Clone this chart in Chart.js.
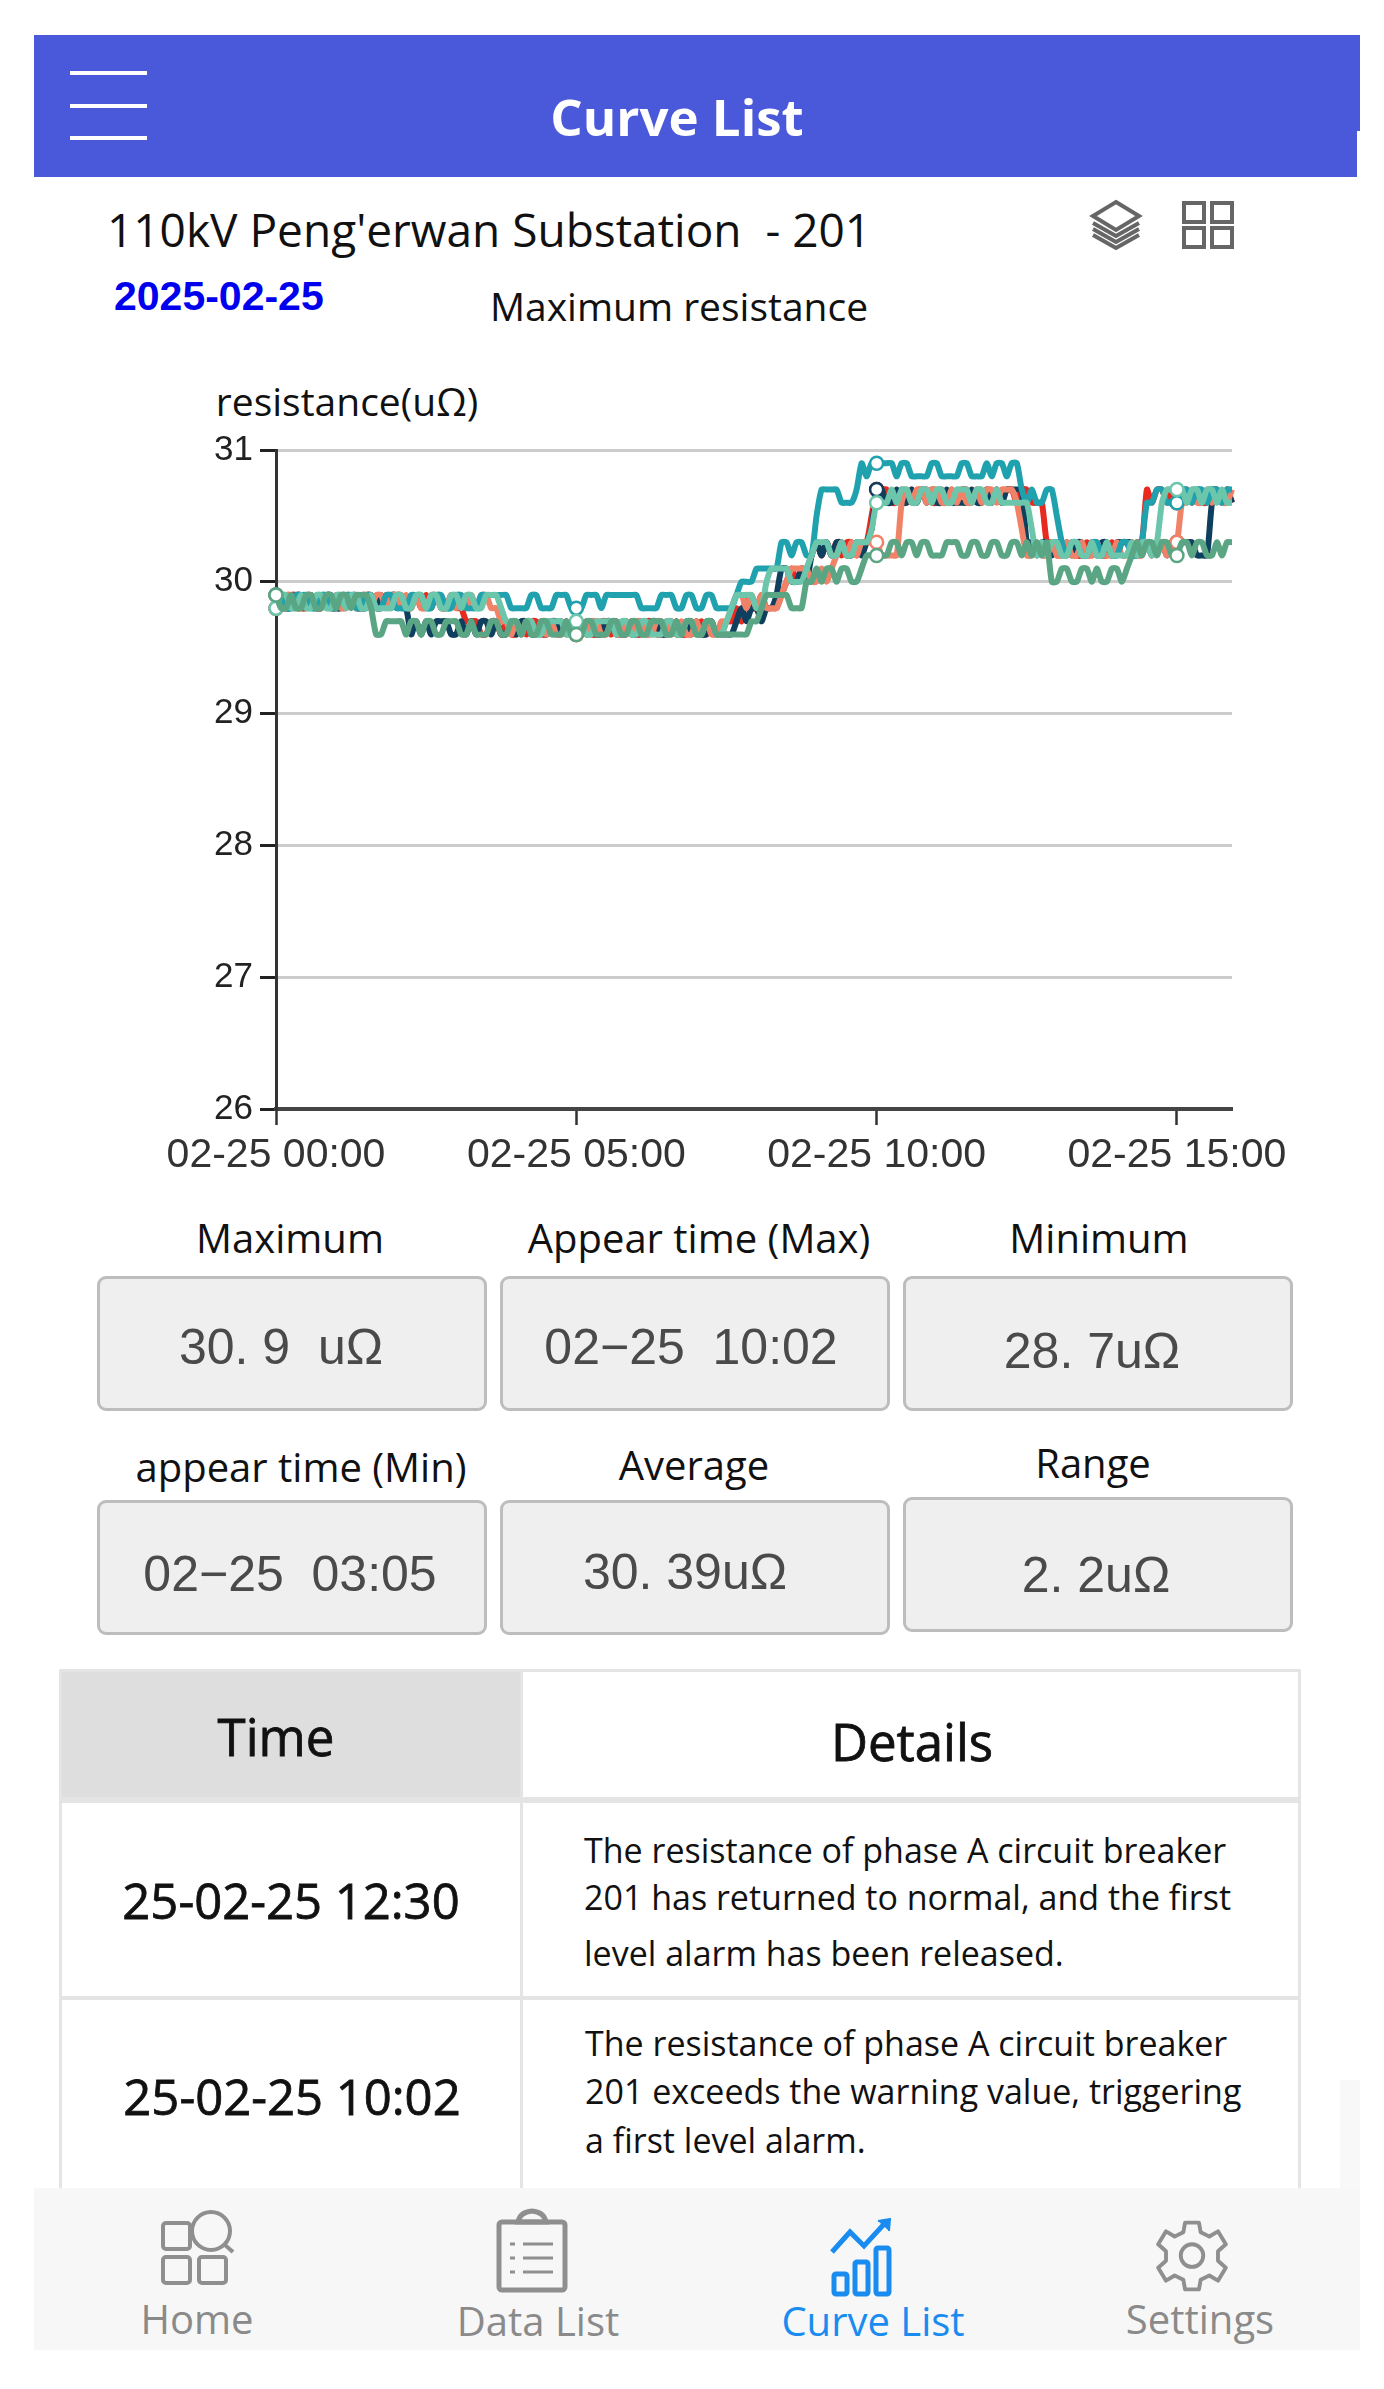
<!DOCTYPE html>
<html>
<head>
<meta charset="utf-8">
<script src="https://cdn.jsdelivr.net/npm/chart.js@4"></script>
<style>
  html, body { margin: 0; padding: 0; background: #fff; }
  #page { position: relative; width: 1384px; height: 2389px; overflow: hidden; font-family: "Open Sans", sans-serif; color: #111; }
  #page > * { position: absolute; }
  #chart { left: 0; top: 370px; }
  .t { transform: translate(-50%, -50%); white-space: nowrap; }
  .l { transform: translateY(-50%); white-space: nowrap; }
  .box { box-sizing: border-box; width: 390px; height: 135px; background: #efefef; border: 3px solid #bdbdbd; border-radius: 9px; }
  .label { font-size: 40px; }
  .val { font-size: 50px; color: #4a4a4a; font-family: "Liberation Sans", sans-serif; }
  .detail { font-size: 34px; }
  .nav { font-size: 40px; color: #8a8a8a; }
  .cell { box-sizing: border-box; border: 3px solid #e4e4e4; }
  .medium { -webkit-text-stroke: 0.8px #111; }
</style>
</head>
<body>
<div id="page">
  <div style="left:34px;top:35px;width:1326px;height:96px;background:#4a58da"></div>
  <div style="left:34px;top:131px;width:1323px;height:46px;background:#4a58da"></div>
  <div style="left:70px;top:71px;width:77px;height:4px;background:#fff"></div>
  <div style="left:70px;top:104px;width:77px;height:4px;background:#fff"></div>
  <div style="left:70px;top:136px;width:77px;height:4px;background:#fff"></div>
  <div class="t" style="left:677px;top:116px;color:#fff;font-size:51px;font-weight:700">Curve List</div>

  <div class="l" style="left:107px;top:229px;font-size:46px">110kV Peng'erwan Substation&nbsp; - 201</div>
  <div class="l" style="left:114px;top:296px;font-size:41px;font-weight:700;color:#0000ee;font-family:'Liberation Sans'">2025-02-25</div>
  <div class="t" style="left:679px;top:305px;font-size:39px">Maximum resistance</div>
  <div class="t" style="left:347px;top:400px;font-size:39px">resistance(uΩ)</div>

  <svg style="left:1086px;top:196px" width="160" height="60" fill="none" stroke="#666" stroke-width="4">
    <path d="M30 6 L53 20 L30 34 L7 20 Z"/><path d="M7 27 L30 40 L53 27"/><path d="M7 33 L30 46 L53 33"/><path d="M7 39 L30 52 L53 39"/>
    <rect x="98" y="7" width="20" height="19"/><rect x="126" y="7" width="20" height="19"/><rect x="98" y="32" width="20" height="19"/><rect x="126" y="32" width="20" height="19"/>
  </svg>

  <canvas id="chart" width="1384" height="830"></canvas>

  <div class="t label" style="left:290px;top:1237px">Maximum</div>
  <div class="t label" style="left:699px;top:1237px">Appear time (Max)</div>
  <div class="t label" style="left:1099px;top:1237px">Minimum</div>
  <div class="box" style="left:97px;top:1276px"></div>
  <div class="box" style="left:500px;top:1276px"></div>
  <div class="box" style="left:903px;top:1276px"></div>
  <div class="t val" style="left:281px;top:1347px">30. 9&nbsp; uΩ</div>
  <div class="t val" style="left:691px;top:1347px">02−25&nbsp; 10:02</div>
  <div class="t val" style="left:1092px;top:1351px">28. 7uΩ</div>

  <div class="t label" style="left:301px;top:1466px">appear time (Min)</div>
  <div class="t label" style="left:694px;top:1464px">Average</div>
  <div class="t label" style="left:1093px;top:1462px">Range</div>
  <div class="box" style="left:97px;top:1500px"></div>
  <div class="box" style="left:500px;top:1500px"></div>
  <div class="box" style="left:903px;top:1497px"></div>
  <div class="t val" style="left:290px;top:1574px">02−25&nbsp; 03:05</div>
  <div class="t val" style="left:685px;top:1572px">30. 39uΩ</div>
  <div class="t val" style="left:1096px;top:1575px">2. 2uΩ</div>

  <div class="cell" style="left:59px;top:1669px;width:464px;height:131px;background:#dedede"></div>
  <div class="cell" style="left:520px;top:1669px;width:781px;height:131px"></div>
  <div class="cell" style="left:59px;top:1800px;width:464px;height:199px"></div>
  <div class="cell" style="left:520px;top:1800px;width:781px;height:199px"></div>
  <div class="cell" style="left:59px;top:1997px;width:464px;height:230px"></div>
  <div class="cell" style="left:520px;top:1997px;width:781px;height:230px"></div>
  <div class="t medium" style="left:276px;top:1736px;font-size:51px">Time</div>
  <div class="t medium" style="left:912px;top:1741px;font-size:51px">Details</div>
  <div class="t medium" style="left:291px;top:1900px;font-size:49px">25-02-25 12:30</div>
  <div class="t medium" style="left:292px;top:2096px;font-size:49px">25-02-25 10:02</div>
  <div class="l detail" style="left:584px;top:1850px">The resistance of phase A circuit breaker</div>
  <div class="l detail" style="left:584px;top:1897px">201 has returned to normal, and the first</div>
  <div class="l detail" style="left:584px;top:1953px">level alarm has been released.</div>
  <div class="l detail" style="left:585px;top:2043px">The resistance of phase A circuit breaker</div>
  <div class="l detail" style="left:585px;top:2091px">201 exceeds the warning value, triggering</div>
  <div class="l detail" style="left:585px;top:2140px">a first level alarm.</div>

  <div style="left:1340px;top:2080px;width:20px;height:108px;background:#f8f8f8"></div>
  <div style="left:34px;top:2188px;width:1326px;height:162px;background:#f7f7f7"></div>
  <svg style="left:150px;top:2209px" width="100" height="85" fill="none" stroke="#8f8f8f" stroke-width="4">
    <rect x="13" y="14" width="27" height="26" rx="3"/><rect x="13" y="48" width="27" height="26" rx="3"/><rect x="49" y="48" width="27" height="26" rx="3"/>
    <circle cx="61" cy="22" r="19"/><path d="M75 36 L83 43"/>
  </svg>
  <svg style="left:490px;top:2208px" width="90" height="90" fill="none" stroke="#8f8f8f" stroke-width="5">
    <rect x="9" y="14" width="66" height="68" rx="3"/><path d="M28 14 Q30 4 42 3 Q54 4 56 14 Z"/>
    <path d="M20 36 h5 M33 36 h30 M20 50 h5 M33 50 h30 M20 64 h5 M33 64 h30" stroke-width="3"/>
  </svg>
  <svg style="left:826px;top:2218px" width="80" height="80" fill="none" stroke="#1a8cf0" stroke-width="5">
    <path d="M6 34 L24 14 L38 28 L60 4" /><path d="M52 3 L64 1 L63 13" fill="#1a8cf0" stroke-width="2"/>
    <rect x="8" y="56" width="13" height="20" rx="2"/><rect x="29" y="44" width="13" height="32" rx="2"/><rect x="50" y="30" width="13" height="46" rx="2"/>
  </svg>
  <svg style="left:1153px;top:2217px" width="78" height="78" viewBox="0 0 90 85" fill="none" stroke="#8f8f8f" stroke-width="4.5">
    <path d="M37 4 L53 4 L55 15 L65 20 L75 14 L84 29 L75 37 L75 48 L84 56 L75 71 L65 65 L55 70 L53 81 L37 81 L35 70 L25 65 L15 71 L6 56 L15 48 L15 37 L6 29 L15 14 L25 20 L35 15 Z" stroke-linejoin="round"/>
    <circle cx="45" cy="42" r="13"/>
  </svg>
  <div class="t nav" style="left:197px;top:2318px">Home</div>
  <div class="t nav" style="left:538px;top:2320px">Data List</div>
  <div class="t nav" style="left:873px;top:2320px;color:#1a8cf0">Curve List</div>
  <div class="t nav" style="left:1200px;top:2318px">Settings</div>
</div>

<script>
// Sampled every 5 minutes, 00:00 to 15:55 (192 points per series)
const sampleMinutes = 5;
const tickLabels = ['02-25 00:00', '02-25 05:00', '02-25 10:00', '02-25 15:00'];
const tickIndexes = [0, 60, 120, 180];
const yTicks = [26, 27, 28, 29, 30, 31];

const redValues = [
  29.9,29.8,29.8,29.9,29.9,29.8,29.8,29.9,29.8,29.8,
  29.9,29.8,29.8,29.9,29.8,29.9,29.8,29.8,29.9,29.9,
  29.8,29.8,29.9,29.8,29.9,29.9,29.8,29.8,29.9,29.8,
  29.9,29.8,29.9,29.8,29.8,29.9,29.8,29.8,29.7,29.7,
  29.7,29.6,29.6,29.7,29.7,29.6,29.7,29.6,29.6,29.7,
  29.6,29.7,29.7,29.6,29.6,29.7,29.6,29.7,29.6,29.7,
  29.6,29.6,29.7,29.6,29.6,29.7,29.7,29.6,29.7,29.6,
  29.6,29.7,29.6,29.6,29.7,29.7,29.6,29.6,29.7,29.6,
  29.7,29.6,29.6,29.7,29.6,29.7,29.6,29.7,29.6,29.6,
  29.7,29.7,29.8,29.7,29.9,29.8,29.8,29.9,29.8,29.8,
  29.8,29.9,30.0,30.1,30.0,30.1,30.1,30.2,30.3,30.2,
  30.3,30.2,30.3,30.2,30.3,30.3,30.2,30.3,30.3,30.5,
  30.7,30.7,30.7,30.6,30.6,30.7,30.6,30.7,30.6,30.7,
  30.7,30.6,30.6,30.7,30.6,30.7,30.6,30.7,30.7,30.6,
  30.7,30.6,30.7,30.6,30.7,30.6,30.7,30.7,30.6,30.7,
  30.7,30.6,30.6,30.6,30.3,30.3,30.2,30.3,30.2,30.3,
  30.2,30.2,30.3,30.2,30.3,30.2,30.2,30.3,30.2,30.3,
  30.3,30.2,30.3,30.3,30.7,30.6,30.7,30.7,30.6,30.7,
  30.6,30.6,30.7,30.6,30.7,30.6,30.6,30.7,30.7,30.6,30.7,30.6,
];
const navyValues = [
  29.8,29.9,29.8,29.8,29.9,29.9,29.8,29.9,29.8,29.8,
  29.9,29.9,29.8,29.8,29.9,29.9,29.9,29.8,29.8,29.9,
  29.8,29.9,29.8,29.9,29.9,29.8,29.8,29.6,29.7,29.6,
  29.7,29.6,29.7,29.7,29.7,29.6,29.6,29.7,29.6,29.7,
  29.6,29.7,29.7,29.6,29.7,29.6,29.6,29.7,29.6,29.7,
  29.7,29.6,29.6,29.7,29.6,29.7,29.7,29.6,29.7,29.6,
  29.6,29.7,29.6,29.7,29.6,29.6,29.7,29.7,29.6,29.6,
  29.7,29.6,29.6,29.7,29.6,29.7,29.7,29.6,29.6,29.7,
  29.6,29.6,29.7,29.6,29.7,29.6,29.6,29.7,29.6,29.6,
  29.6,29.6,29.7,29.8,29.7,29.8,29.8,29.7,29.8,29.8,
  29.9,30.1,30.1,30.0,30.0,30.1,30.0,30.2,30.3,30.2,
  30.3,30.2,30.3,30.3,30.2,30.2,30.3,30.2,30.3,30.4,
  30.7,30.7,30.6,30.6,30.7,30.6,30.6,30.7,30.6,30.7,
  30.6,30.7,30.6,30.6,30.7,30.6,30.6,30.6,30.6,30.7,
  30.6,30.6,30.7,30.6,30.7,30.6,30.7,30.7,30.7,30.7,
  30.3,30.3,30.2,30.3,30.3,30.2,30.3,30.2,30.3,30.2,
  30.3,30.3,30.2,30.3,30.2,30.3,30.3,30.2,30.3,30.3,
  30.3,30.3,30.2,30.3,30.3,30.2,30.3,30.3,30.2,30.3,
  30.3,30.3,30.3,30.3,30.2,30.2,30.2,30.6,30.7,30.6,30.7,30.6,
];
const salmonValues = [
  29.8,29.8,29.9,29.9,29.8,29.8,29.9,29.9,29.8,29.8,
  29.9,29.8,29.9,29.8,29.8,29.9,29.8,29.9,29.9,29.8,
  29.9,29.9,29.8,29.9,29.9,29.8,29.9,29.8,29.9,29.8,
  29.8,29.9,29.9,29.8,29.8,29.9,29.8,29.9,29.8,29.9,
  29.8,29.9,29.9,29.8,29.8,29.7,29.7,29.6,29.7,29.6,
  29.7,29.7,29.6,29.7,29.6,29.7,29.6,29.6,29.7,29.6,
  29.6,29.7,29.6,29.7,29.7,29.6,29.6,29.7,29.6,29.6,
  29.7,29.6,29.7,29.7,29.6,29.6,29.7,29.7,29.6,29.7,
  29.6,29.7,29.6,29.6,29.7,29.6,29.7,29.6,29.6,29.7,
  29.7,29.8,29.9,29.9,29.8,29.9,29.8,29.9,29.8,29.8,
  29.8,29.9,30.0,30.1,30.1,30.1,30.1,30.0,30.0,30.1,
  30.0,30.1,30.2,30.3,30.2,30.3,30.2,30.3,30.3,30.3,
  30.3,30.2,30.2,30.2,30.2,30.6,30.7,30.6,30.7,30.7,
  30.6,30.7,30.7,30.6,30.6,30.7,30.6,30.7,30.6,30.6,
  30.7,30.6,30.7,30.7,30.6,30.7,30.7,30.7,30.6,30.4,
  30.2,30.2,30.3,30.2,30.2,30.3,30.2,30.2,30.3,30.2,
  30.2,30.3,30.2,30.2,30.3,30.2,30.2,30.2,30.3,30.2,
  30.2,30.3,30.2,30.2,30.3,30.2,30.3,30.3,30.2,30.3,
  30.3,30.6,30.6,30.7,30.6,30.6,30.7,30.6,30.7,30.6,30.6,30.7,
];
const tealValues = [
  29.9,29.9,29.8,29.8,29.9,29.9,29.9,29.8,29.8,29.9,
  29.9,29.8,29.8,29.9,29.9,29.9,29.8,29.8,29.9,29.9,
  29.8,29.8,29.9,29.9,29.8,29.8,29.8,29.9,29.9,29.9,
  29.8,29.8,29.9,29.9,29.8,29.8,29.9,29.9,29.8,29.8,
  29.8,29.9,29.9,29.9,29.9,29.9,29.9,29.8,29.8,29.8,
  29.8,29.9,29.9,29.8,29.8,29.8,29.9,29.9,29.9,29.8,
  29.8,29.8,29.9,29.9,29.9,29.8,29.9,29.9,29.9,29.9,
  29.9,29.9,29.9,29.8,29.8,29.8,29.8,29.9,29.9,29.9,
  29.8,29.8,29.9,29.9,29.8,29.8,29.9,29.9,29.8,29.8,
  29.8,29.8,29.9,30.0,30.0,30.0,30.1,30.1,30.1,30.1,
  30.1,30.3,30.3,30.2,30.3,30.3,30.2,30.2,30.5,30.7,
  30.7,30.7,30.7,30.6,30.6,30.6,30.7,30.9,30.8,30.9,
  30.9,30.9,30.9,30.9,30.8,30.9,30.9,30.8,30.8,30.8,
  30.8,30.9,30.9,30.8,30.8,30.8,30.8,30.9,30.9,30.8,
  30.8,30.8,30.9,30.8,30.9,30.9,30.8,30.9,30.9,30.7,
  30.6,30.7,30.6,30.6,30.7,30.7,30.5,30.3,30.2,30.3,
  30.3,30.2,30.2,30.3,30.3,30.2,30.3,30.2,30.2,30.3,
  30.3,30.2,30.2,30.3,30.6,30.6,30.7,30.7,30.6,30.6,
  30.6,30.7,30.7,30.6,30.7,30.7,30.6,30.7,30.7,30.6,30.7,30.7,
];
const mintValues = [
  29.8,29.9,29.9,29.8,29.8,29.9,29.8,29.8,29.9,29.9,
  29.8,29.8,29.9,29.9,29.8,29.9,29.9,29.8,29.8,29.9,
  29.8,29.8,29.8,29.8,29.9,29.9,29.8,29.8,29.9,29.9,
  29.8,29.9,29.9,29.8,29.8,29.9,29.9,29.8,29.9,29.9,
  29.8,29.8,29.9,29.9,29.9,29.8,29.7,29.7,29.7,29.6,
  29.7,29.7,29.6,29.6,29.7,29.7,29.7,29.7,29.6,29.6,
  29.7,29.7,29.6,29.6,29.7,29.7,29.7,29.7,29.6,29.7,
  29.7,29.6,29.6,29.7,29.7,29.6,29.6,29.6,29.7,29.7,
  29.6,29.6,29.7,29.7,29.6,29.6,29.7,29.7,29.6,29.6,
  29.7,29.8,29.9,29.9,29.9,29.9,29.8,29.8,30.0,30.1,
  30.1,30.1,30.1,30.0,30.0,30.0,30.1,30.2,30.3,30.3,
  30.3,30.2,30.2,30.3,30.2,30.2,30.3,30.3,30.3,30.4,
  30.6,30.6,30.6,30.7,30.6,30.7,30.7,30.6,30.6,30.7,
  30.7,30.6,30.7,30.7,30.6,30.6,30.7,30.7,30.7,30.6,
  30.7,30.7,30.6,30.6,30.7,30.6,30.6,30.6,30.6,30.6,
  30.6,30.4,30.2,30.3,30.2,30.3,30.3,30.2,30.2,30.3,
  30.3,30.2,30.2,30.3,30.2,30.2,30.3,30.2,30.2,30.2,
  30.2,30.3,30.2,30.3,30.3,30.2,30.3,30.6,30.7,30.7,
  30.7,30.7,30.6,30.7,30.7,30.6,30.7,30.7,30.6,30.7,30.6,30.6,
];
const greenValues = [
  29.9,29.8,29.8,29.9,29.8,29.8,29.9,29.9,29.8,29.8,
  29.9,29.9,29.8,29.9,29.9,29.8,29.9,29.9,29.9,29.8,
  29.6,29.6,29.7,29.7,29.7,29.7,29.6,29.7,29.7,29.6,
  29.7,29.7,29.6,29.6,29.7,29.7,29.7,29.6,29.6,29.7,
  29.6,29.6,29.6,29.7,29.7,29.6,29.6,29.7,29.7,29.6,
  29.7,29.6,29.6,29.7,29.7,29.6,29.6,29.6,29.7,29.6,
  29.6,29.6,29.7,29.7,29.6,29.6,29.6,29.7,29.7,29.6,
  29.6,29.7,29.7,29.6,29.6,29.7,29.7,29.7,29.6,29.6,
  29.7,29.6,29.7,29.7,29.6,29.6,29.7,29.7,29.6,29.6,
  29.6,29.6,29.6,29.6,29.6,29.7,29.7,29.8,29.9,29.9,
  29.9,29.9,29.9,29.8,29.8,29.8,30.0,30.0,30.1,30.0,
  30.1,30.1,30.0,30.1,30.1,30.0,30.0,30.1,30.2,30.2,
  30.2,30.2,30.2,30.3,30.3,30.2,30.3,30.3,30.2,30.3,
  30.3,30.2,30.2,30.2,30.3,30.3,30.3,30.2,30.2,30.3,
  30.3,30.2,30.2,30.3,30.3,30.2,30.2,30.3,30.3,30.2,
  30.3,30.2,30.3,30.2,30.3,30.0,30.0,30.1,30.1,30.0,
  30.0,30.1,30.1,30.0,30.1,30.0,30.0,30.1,30.1,30.0,
  30.1,30.2,30.3,30.2,30.3,30.3,30.2,30.3,30.3,30.2,
  30.2,30.3,30.3,30.2,30.3,30.3,30.2,30.2,30.3,30.2,30.3,30.3,
];

const seriesColors = {
  red: '#e8291f',
  navy: '#0f3f5e',
  salmon: '#f08367',
  teal: '#1fa2ae',
  mint: '#6cc6ab',
  green: '#5aa583',
};

/**
 * Build the time labels for the category axis
 * @returns {Array} One 'MM-DD HH:mm' label per sample
 */
const buildTimeLabels = () => redValues.map((_, i) => {
  const minutes = i * sampleMinutes;
  const hh = String(Math.floor(minutes / 60)).padStart(2, '0');
  const mm = String(minutes % 60).padStart(2, '0');
  return `02-25 ${hh}:${mm}`;
});

const makeDataset = (label, data, color) => ({
  label,
  data,
  borderColor: color,
  borderWidth: 6,
  tension: 0.2,
  fill: false,
  borderJoinStyle: 'round',
  pointRadius: (ctx) => tickIndexes.includes(ctx.dataIndex) ? 6.5 : 0,
  pointBackgroundColor: '#fff',
  pointBorderColor: color,
  pointBorderWidth: 2.5,
});

new Chart(document.getElementById('chart').getContext('2d'), {
  type: 'line',
  data: {
    labels: buildTimeLabels(),
    // Chart.js paints the first dataset last, so the top line goes first
    datasets: [
      makeDataset('Green', greenValues, seriesColors.green),
      makeDataset('Mint', mintValues, seriesColors.mint),
      makeDataset('Teal', tealValues, seriesColors.teal),
      makeDataset('Salmon', salmonValues, seriesColors.salmon),
      makeDataset('Navy', navyValues, seriesColors.navy),
      makeDataset('Red', redValues, seriesColors.red),
    ],
  },
  options: {
    responsive: false,
    animation: false,
    events: [],
    layout: {padding: {left: 0, right: 152, top: 80, bottom: 0}},
    plugins: {legend: {display: false}, tooltip: {enabled: false}},
    scales: {
      x: {
        type: 'category',
        offset: false,
        afterBuildTicks: (scale) => {
          scale.ticks = tickIndexes.map(value => ({value}));
        },
        afterFit: (scale) => { scale.height = 91; },
        grid: {drawOnChartArea: false, tickLength: 16, tickColor: '#333', tickWidth: 2.5},
        border: {color: '#444', width: 4},
        ticks: {
          autoSkip: false,
          maxRotation: 0,
          padding: 6,
          color: '#333',
          font: {family: 'Liberation Sans', size: 41},
          callback: (_, index) => tickLabels[index],
        },
      },
      y: {
        min: yTicks[0],
        max: yTicks[yTicks.length - 1],
        afterFit: (scale) => { scale.width = 276; },
        grid: {color: '#cccccc', lineWidth: 3, tickLength: 16, tickColor: '#222', tickWidth: 3},
        border: {color: '#333', width: 3},
        ticks: {
          stepSize: 1,
          padding: 7,
          color: '#222',
          font: {family: 'Liberation Sans', size: 35},
        },
      },
    },
  },
});
</script>
</body>
</html>
